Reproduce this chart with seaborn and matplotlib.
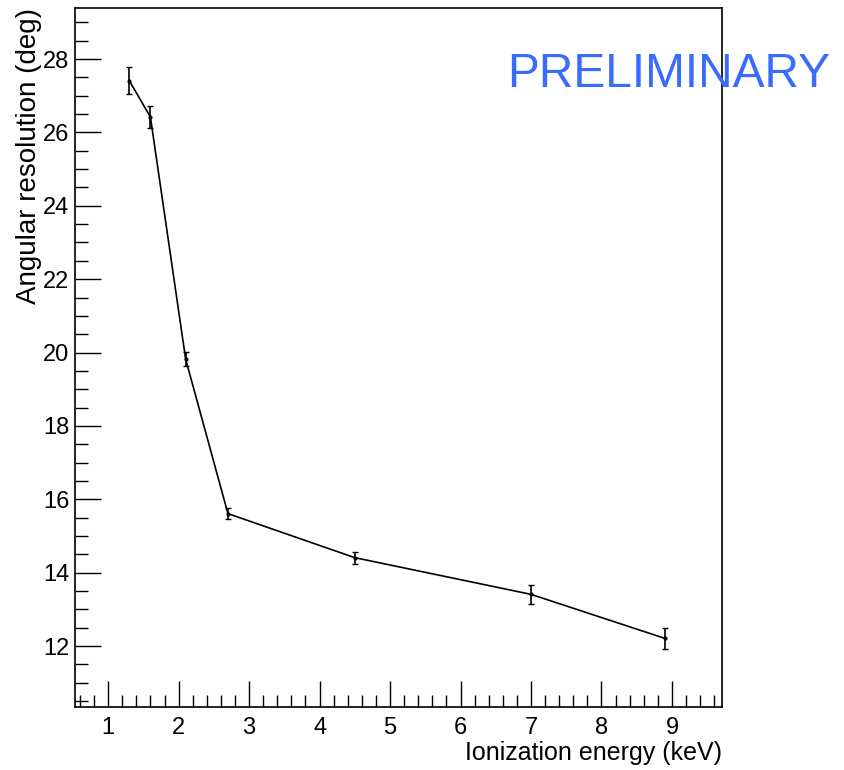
import matplotlib
matplotlib.use("Agg")
import matplotlib.pyplot as plt
from matplotlib.ticker import MultipleLocator
import seaborn as sns
import pandas as pd

# Data
energy = [1.3, 1.6, 2.1, 2.7, 4.5, 7.0, 8.9]
resolution = [27.41, 26.42, 19.82, 15.61, 14.41, 13.41, 12.21]
res_err = [0.37, 0.30, 0.19, 0.14, 0.16, 0.25, 0.29]

x_ticks = [1, 2, 3, 4, 5, 6, 7, 8, 9]
y_ticks = [12, 14, 16, 18, 20, 22, 24, 26, 28]

df = pd.DataFrame({"energy": energy, "resolution": resolution, "err": res_err})

sns.set_style("ticks")
plt.rcParams['font.family'] = ['Liberation Sans', 'DejaVu Sans']
plt.rcParams['text.color'] = "black"
plt.rcParams['axes.labelcolor'] = "black"
plt.rcParams['xtick.color'] = "black"
plt.rcParams['ytick.color'] = "black"

fig = plt.figure(figsize=(8.44, 7.7), dpi=100)
ax = fig.add_axes([75 / 844, 1 - 707 / 770, 647 / 844, 699 / 770])

sns.lineplot(data=df, x="energy", y="resolution", ax=ax, color="black",
             linewidth=1.2, sort=False, zorder=3)
ax.errorbar(df["energy"], df["resolution"], yerr=df["err"], fmt="none",
            ecolor="black", elinewidth=1.2, capsize=2.5, capthick=1.0, zorder=3)
ax.scatter(df["energy"], df["resolution"], s=4, color="black", zorder=4)

ax.set_xlim(0.53, 9.71)
ax.set_ylim(10.34, 29.39)
ax.set_xticks(x_ticks)
ax.set_yticks(y_ticks)
ax.xaxis.set_minor_locator(MultipleLocator(0.2))
ax.yaxis.set_minor_locator(MultipleLocator(0.5))
ax.tick_params(axis="both", which="major", direction="in", length=19, width=1,
               labelsize=17)
ax.tick_params(axis="both", which="minor", direction="in", length=9, width=1)
ax.tick_params(axis="x", which="major", pad=7)
ax.tick_params(axis="y", which="major", pad=4)

for s in ax.spines.values():
    s.set_visible(True)
    s.set_linewidth(1.2)
    s.set_color("black")
    s.set_zorder(5)

ax.set_xlabel("Ionization energy (keV)", fontsize=18, ha="right")
ax.xaxis.set_label_coords(1.0, -34 / 699)
ax.set_ylabel("Angular resolution (deg)", fontsize=20, ha="right")
ax.yaxis.set_label_coords(-33 / 647, 1.0)

fig.text(507 / 844, 1 - 87 / 770, "PRELIMINARY", color="#3a6bff", fontsize=34.5,
         ha="left", va="baseline", zorder=1)

fig.savefig("out.png", dpi=100, facecolor="white")
